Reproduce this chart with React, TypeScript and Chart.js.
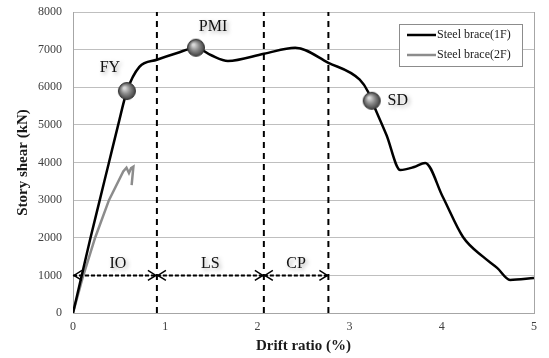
import React, { useEffect, useRef } from "react";
import { Chart, registerables } from "chart.js";

Chart.register(...registerables);

// ---- data ----
const drift1F = [0, 0.095, 0.19, 0.29, 0.39, 0.49, 0.585, 0.72, 0.91, 1.13, 1.334, 1.5, 1.68, 2.07, 2.41, 2.77, 3.11, 3.2, 3.24, 3.4, 3.55, 3.7, 3.82, 4.01, 4.23, 4.45, 4.6, 4.74, 5.0];
const shear1F = [0, 1000, 2000, 3000, 4000, 5000, 5900, 6540, 6730, 6910, 7050, 6850, 6700, 6890, 7050, 6650, 6200, 5880, 5640, 4730, 3800, 3880, 3990, 3090, 2020, 1490, 1200, 880, 930];
const drift2F = [0, 0.1, 0.24, 0.39, 0.545, 0.58, 0.607, 0.63, 0.655, 0.636];
const shear2F = [0, 900, 2000, 3000, 3760, 3860, 3720, 3850, 3890, 3400];

const pointLabels = ["FY", "PMI", "SD"];
const pointDrift = [0.585, 1.334, 3.24];
const pointShear = [5900, 7050, 5640];

const zoneBounds = [0, 0.91, 2.07, 2.77];
const zoneLabels = ["IO", "LS", "CP"];
const zoneArrowShear = 1000;

const seriesLabels = ["Steel brace(1F)", "Steel brace(2F)"];
const xTicks = [0, 1, 2, 3, 4, 5];
const yTicks = [0, 1000, 2000, 3000, 4000, 5000, 6000, 7000, 8000];

const SERIF = "'Liberation Serif', 'Times New Roman', serif";

function zip(xs: number[], ys: number[]) {
  return xs.map((x, i) => ({ x, y: ys[i] }));
}

function makeSphere(): HTMLCanvasElement {
  const c = document.createElement("canvas");
  const s = 20;
  c.width = s;
  c.height = s;
  const g = c.getContext("2d")!;
  const grad = g.createRadialGradient(7.5, 7, 1, 10, 10, 9);
  grad.addColorStop(0, "#d8d8d8");
  grad.addColorStop(0.45, "#8a8a8a");
  grad.addColorStop(1, "#3a3a3a");
  g.beginPath();
  g.arc(10, 10, 8.5, 0, Math.PI * 2);
  g.fillStyle = grad;
  g.fill();
  g.lineWidth = 1;
  g.strokeStyle = "#333";
  g.stroke();
  return c;
}

const labelOffsets: Record<string, [number, number]> = {
  FY: [-17, -23],
  PMI: [17, -21],
  SD: [26, 0],
};

const overlayPlugin = {
  id: "overlay",
  afterDatasetsDraw(chart: any) {
    const ctx = chart.ctx as CanvasRenderingContext2D;
    const xs = chart.scales.x;
    const ys = chart.scales.y;
    const area = chart.chartArea;
    ctx.save();
    // arrowheads
    const yA = ys.getPixelForValue(zoneArrowShear);
    ctx.strokeStyle = "#000";
    ctx.lineWidth = 1.5;
    for (let i = 0; i < zoneLabels.length; i++) {
      const a = xs.getPixelForValue(zoneBounds[i]);
      const b = xs.getPixelForValue(zoneBounds[i + 1]);
      ctx.beginPath();
      ctx.moveTo(a + 9, yA - 5);
      ctx.lineTo(a + 1, yA);
      ctx.lineTo(a + 9, yA + 5);
      ctx.moveTo(b - 9, yA - 5);
      ctx.lineTo(b - 1, yA);
      ctx.lineTo(b - 9, yA + 5);
      ctx.stroke();
    }
    // text labels with shadow
    ctx.font = `16px ${SERIF}`;
    ctx.fillStyle = "#111";
    ctx.textAlign = "center";
    ctx.textBaseline = "middle";
    ctx.shadowColor = "rgba(0,0,0,0.35)";
    ctx.shadowBlur = 4;
    ctx.shadowOffsetX = 2;
    ctx.shadowOffsetY = 2;
    for (let i = 0; i < zoneLabels.length; i++) {
      const a = xs.getPixelForValue(zoneBounds[i]);
      const b = xs.getPixelForValue(zoneBounds[i + 1]);
      ctx.fillText(zoneLabels[i], (a + b) / 2 + (i === 0 ? 3 : 0), yA - 12);
    }
    for (let i = 0; i < pointLabels.length; i++) {
      const px = xs.getPixelForValue(pointDrift[i]);
      const py = ys.getPixelForValue(pointShear[i]);
      const off = labelOffsets[pointLabels[i]];
      ctx.fillText(pointLabels[i], px + off[0], py + off[1]);
    }
    ctx.restore();

    // legend
    ctx.save();
    const bw = 123;
    const bh = 42;
    const bx = area.right - 12 - bw;
    const by = area.top + 12;
    ctx.fillStyle = "#fff";
    ctx.fillRect(bx, by, bw, bh);
    ctx.strokeStyle = "#8c8c8c";
    ctx.lineWidth = 1;
    ctx.strokeRect(bx + 0.5, by + 0.5, bw, bh);
    ctx.font = `12px ${SERIF}`;
    ctx.textBaseline = "middle";
    ctx.textAlign = "left";
    for (let i = 0; i < seriesLabels.length; i++) {
      const ds = chart.data.datasets[i];
      const ly = by + 11 + i * 20;
      ctx.strokeStyle = ds.borderColor;
      ctx.lineWidth = 2.5;
      ctx.beginPath();
      ctx.moveTo(bx + 8, ly);
      ctx.lineTo(bx + 37, ly);
      ctx.stroke();
      ctx.fillStyle = "#222";
      ctx.fillText(seriesLabels[i], bx + 38, ly);
    }
    ctx.restore();
  },
};

export default function App() {
  const ref = useRef<HTMLCanvasElement>(null);
  useEffect(() => {
    if (!ref.current) return;
    const sphere = makeSphere();
    const datasets: any[] = [
      {
        label: seriesLabels[0],
        data: zip(drift1F, shear1F),
        borderColor: "#000",
        borderWidth: 2.5,
        showLine: true,
        cubicInterpolationMode: "monotone",
        pointRadius: 0,
        order: 1,
      },
      {
        label: seriesLabels[1],
        data: zip(drift2F, shear2F),
        borderColor: "#8c8c8c",
        borderWidth: 2.5,
        showLine: true,
        tension: 0,
        pointRadius: 0,
        order: 2,
      },
      {
        label: "points",
        data: zip(pointDrift, pointShear),
        pointStyle: sphere,
        pointRadius: 9,
        showLine: false,
        order: 0,
      },
    ];
    zoneBounds.slice(1).forEach((b) => {
      datasets.push({
        label: "bound",
        data: [
          { x: b, y: 0 },
          { x: b, y: 8000 },
        ],
        borderColor: "#000",
        borderWidth: 2,
        borderDash: [6, 5],
        showLine: true,
        pointRadius: 0,
        order: 5,
      });
    });
    for (let i = 0; i < zoneLabels.length; i++) {
      datasets.push({
        label: "zone",
        data: [
          { x: zoneBounds[i], y: zoneArrowShear },
          { x: zoneBounds[i + 1], y: zoneArrowShear },
        ],
        borderColor: "#000",
        borderWidth: 2,
        borderDash: [4, 2],
        showLine: true,
        pointRadius: 0,
        order: 4,
      });
    }
    const chart = new Chart(ref.current, {
      type: "scatter",
      data: { datasets },
      options: {
        animation: false,
        responsive: true,
        maintainAspectRatio: false,
        layout: { padding: { top: 12, right: 15, left: 0, bottom: 0 } },
        plugins: { legend: { display: false }, tooltip: { enabled: false } },
        scales: {
          x: {
            type: "linear",
            min: 0,
            max: 5,
            afterBuildTicks: (s: any) => {
              s.ticks = xTicks.map((v) => ({ value: v }));
            },
            afterFit: (s: any) => {
              s.height = 45;
              s.paddingLeft = 0;
              s.paddingRight = 0;
            },
            grid: {
              drawTicks: false,
              color: (c: any) => (c.tick && c.tick.value === 5 ? "#a6a6a6" : "transparent"),
            },
            border: { display: true, color: "#a6a6a6" },
            ticks: {
              padding: 7,
              color: "#404040",
              font: { family: SERIF, size: 12 },
              callback: (v: any) => String(v),
            },
            title: {
              display: true,
              text: "Drift ratio (%)",
              color: "#1a1a1a",
              font: { family: SERIF, size: 15, weight: "bold" },
              padding: { top: 2, bottom: 3 },
            },
          },
          y: {
            type: "linear",
            min: 0,
            max: 8000,
            afterBuildTicks: (s: any) => {
              s.ticks = yTicks.map((v) => ({ value: v }));
            },
            afterFit: (s: any) => {
              s.width = 73;
              s.paddingTop = 0;
              s.paddingBottom = 0;
            },
            grid: { drawTicks: false, color: "#bfbfbf" },
            border: { display: true, color: "#a6a6a6" },
            ticks: {
              padding: 11,
              color: "#404040",
              font: { family: SERIF, size: 12 },
              callback: (v: any) => String(v),
            },
            title: {
              display: true,
              text: "Story shear (kN)",
              color: "#1a1a1a",
              font: { family: SERIF, size: 15, weight: "bold" },
              padding: { top: 14, bottom: 0 },
            },
          },
        },
      },
      plugins: [overlayPlugin],
    });
    return () => chart.destroy();
  }, []);
  return (
    <div style={{ position: "absolute", left: 0, top: 0, width: 549, height: 358, background: "#fff" }}>
      <canvas ref={ref} />
    </div>
  );
}
